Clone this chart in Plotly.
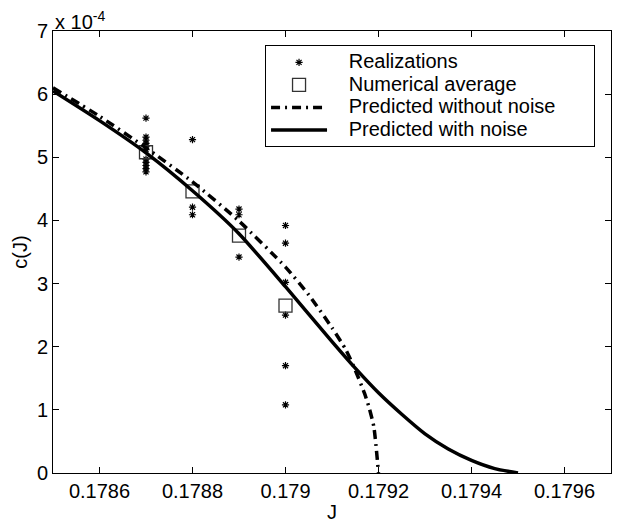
import plotly.graph_objects as go

# values of c(J) are in units of 1e-4
real_J = [0.1787] * 11 + [0.1788] * 3 + [0.1789] * 3 + [0.1790] * 6
real_c = [5.62, 5.32, 5.27, 5.22, 5.17, 5.12, 4.97, 4.92, 4.87, 4.82, 4.77,
          5.28, 4.21, 4.09,
          4.18, 4.09, 3.42,
          3.92, 3.64, 3.02, 2.50, 1.70, 1.08]

avg_J = [0.1787, 0.1788, 0.1789, 0.1790]
avg_c = [5.08, 4.46, 3.76, 2.65]

nonoise_J = [0.1785, 0.1786, 0.1787, 0.1788, 0.1789, 0.1790, 0.17905, 0.1791,
             0.17913, 0.17915, 0.17917, 0.17918, 0.17919, 0.17920]
nonoise_c = [6.10, 5.65, 5.15, 4.61, 3.99, 3.26, 2.82, 2.30,
             1.95, 1.63, 1.26, 1.03, 0.73, 0.0]

noise_J = [0.1785, 0.1786, 0.1787, 0.1788, 0.1789, 0.1790, 0.1791, 0.17915,
           0.1792, 0.17925, 0.1793, 0.17935, 0.1794, 0.17945, 0.1795]
noise_c = [6.05, 5.58, 5.07, 4.47, 3.79, 2.95, 2.08, 1.66,
           1.27, 0.93, 0.62, 0.38, 0.20, 0.07, 0.0]

x_ticks = [0.1786, 0.1788, 0.1790, 0.1792, 0.1794, 0.1796]
x_ticktext = ["0.1786", "0.1788", "0.179", "0.1792", "0.1794", "0.1796"]
y_ticks = [0, 1, 2, 3, 4, 5, 6, 7]

FONT = "Liberation Sans, Arial, Helvetica, sans-serif"


def big(s, pad=0):
    return ('<span style="font-size:20px">' + "&nbsp;" * 3 + s
            + "&nbsp;" * pad + "</span>")


fig = go.Figure()
fig.add_trace(go.Scatter(
    x=real_J, y=real_c, mode="markers", name=big("Realizations"),
    marker=dict(symbol="asterisk-open", size=6, color="black",
                line=dict(color="black", width=1.2))))
fig.add_trace(go.Scatter(
    x=avg_J, y=avg_c, mode="markers", name=big("Numerical average"),
    marker=dict(symbol="square-open", size=13, color="#333",
                line=dict(color="#333", width=1.3))))
fig.add_trace(go.Scatter(
    x=nonoise_J, y=nonoise_c, mode="lines",
    name=big("Predicted without noise", 6),
    line=dict(color="black", width=3.5, dash="9px,5px,2px,5px", shape="spline",
              smoothing=0.6)))
fig.add_trace(go.Scatter(
    x=noise_J, y=noise_c, mode="lines", name=big("Predicted with noise"),
    line=dict(color="black", width=3.5, shape="spline", smoothing=0.6)))

axis_common = dict(showgrid=False, zeroline=False, showline=True,
                   linecolor="black", linewidth=1, mirror="ticks",
                   ticks="inside", ticklen=6, tickcolor="black",
                   tickfont=dict(family=FONT, size=20, color="black"))

# the page body has an 8px margin, so the figure is 8px smaller each way
fig.update_layout(
    width=612, height=515,
    margin=dict(l=45, r=9, t=23, b=50),
    paper_bgcolor="white", plot_bgcolor="white",
    font=dict(family=FONT, size=20, color="black"),
    xaxis=dict(range=[0.1785, 0.1797], tickvals=x_ticks, ticktext=x_ticktext,
               **axis_common),
    yaxis=dict(range=[0, 7], tickvals=y_ticks,
               title=dict(text="c(J)", font=dict(size=20), standoff=3),
               **axis_common),
    legend=dict(x=0.38, y=0.968, xanchor="left", yanchor="top",
                bordercolor="black", borderwidth=1, bgcolor="white",
                font=dict(family=FONT, size=15), itemwidth=56,
                tracegroupgap=0),
    showlegend=True,
)
fig.add_annotation(xref="paper", yref="paper", x=0.5, y=0, xanchor="center",
                   yanchor="middle", showarrow=False, yshift=-39,
                   text="J", font=dict(family=FONT, size=20))
fig.add_annotation(xref="paper", yref="paper", x=0, y=1, xanchor="left",
                   yanchor="bottom", showarrow=False, xshift=0, yshift=-4,
                   text="x 10<sup>-4</sup>", font=dict(family=FONT, size=20))

fig.write_html("out.html")
